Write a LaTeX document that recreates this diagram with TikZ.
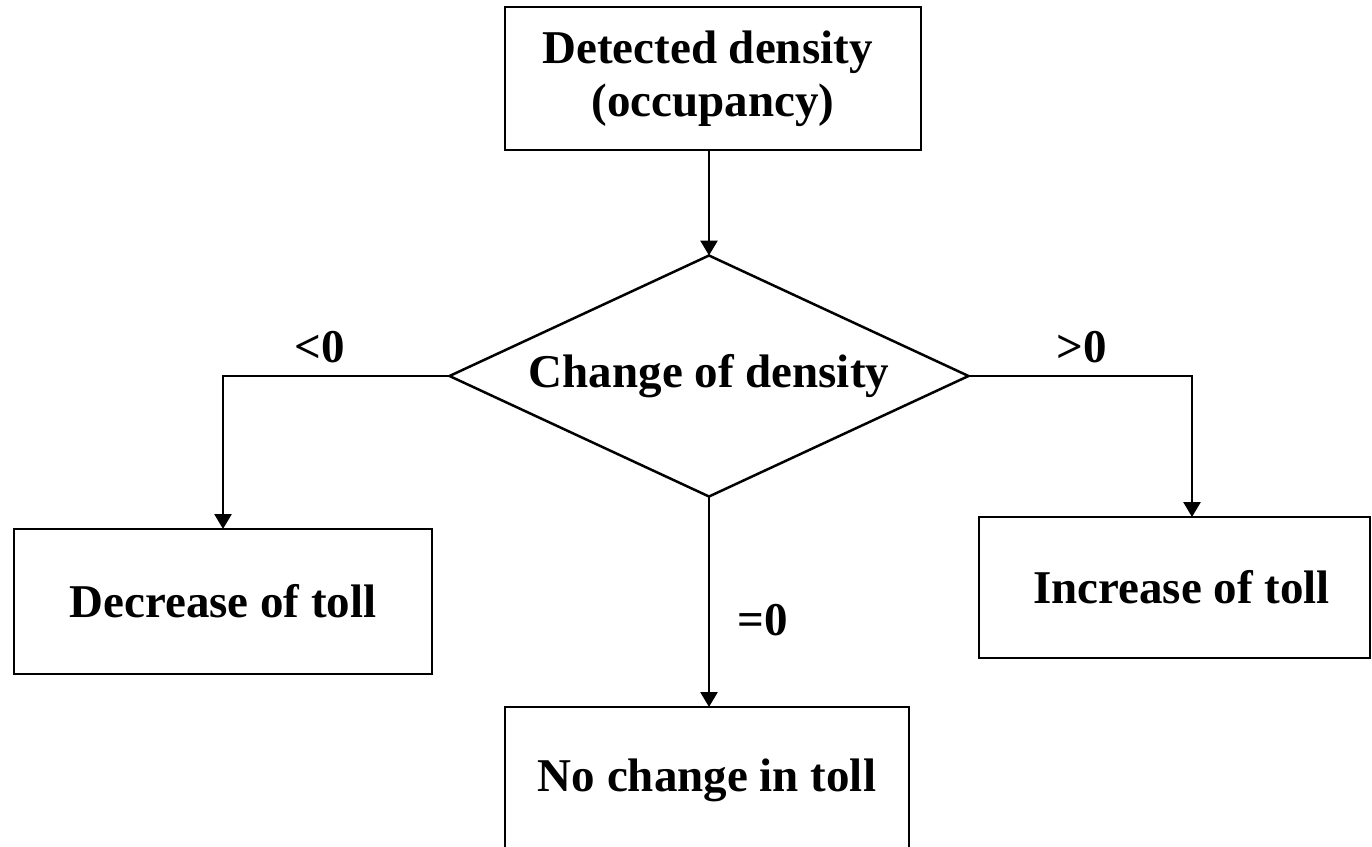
\documentclass[tikz,border=0pt]{standalone}
\usepackage{fontspec}
\setmainfont{Liberation Serif}
\usetikzlibrary{shapes.geometric,arrows.meta}
\begin{document}
\begin{tikzpicture}[x=1pt,y=-1pt,
  box/.style={draw,line width=2.7pt,rectangle,inner sep=0pt,outer sep=0pt,
    align=center,font=\fontsize{47}{53}\selectfont\bfseries},
  decision/.style={draw,line width=2.5pt,diamond,inner sep=0pt,outer sep=0pt,
    aspect=2.15,minimum width=519pt,minimum height=241pt,
    font=\fontsize{47}{53}\selectfont\bfseries},
  flow/.style={line width=2.7pt,-{Triangle[width=17pt,length=15pt]}},
  tag/.style={anchor=base,inner sep=0pt,font=\fontsize{47}{53}\selectfont\bfseries}]
\useasboundingbox (0,0) rectangle (1372,846);
\clip (0,0) rectangle (1372,846);

% process boxes and the decision
\node[box,minimum width=416pt,minimum height=143pt] (detect) at (713,78.5)
  {Detected density\hspace*{11pt}\\(occupancy)};
\node[decision] (change) at (709,376) {Change of density};
\node[box,minimum width=418pt,minimum height=145pt] (dec) at (223,601.5)
  {Decrease of toll};
\node[box,minimum width=391pt,minimum height=141pt] (inc) at (1174.5,587.5)
  {\hspace*{14pt}Increase of toll};
\node[box,minimum width=404pt,minimum height=146pt,anchor=north] (same) at (707,707)
  {No change in toll};

% connectors
\draw[flow] (detect.south -| change.north) -- (change.north);
\draw[flow] (change.west) -- (change.west -| dec.north) -- (dec.north);
\coordinate (incturn) at (1192,376);
\draw[flow] (change.east) -- (incturn) -- (incturn |- inc.north);
\draw[flow] (change.south) -- (change.south |- same.north);

% branch labels
\node[tag] (lt) at (320,362) {<0};
\node[tag] (gt) at (1082,362) {>0};
\node[tag] (eq) at (763,635) {=0};
\end{tikzpicture}
\end{document}
